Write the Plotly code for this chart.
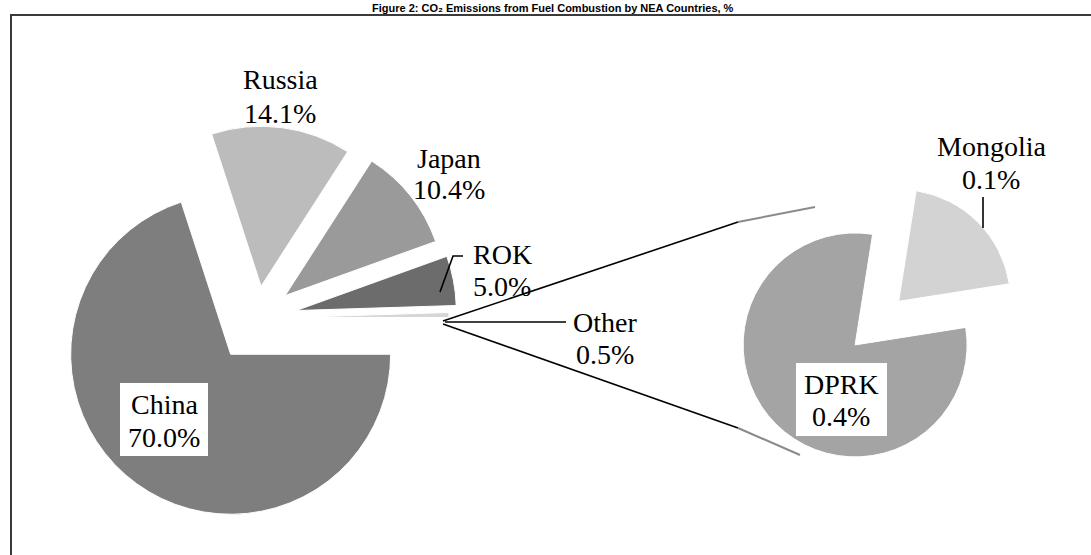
import plotly.graph_objects as go

# ---- data ----
main_labels = ["China", "Russia", "Japan", "ROK", "Other"]
main_values = [70.0, 14.1, 10.4, 5.0, 0.5]
main_colors = ["#7e7e7e", "#bcbcbc", "#9a9a9a", "#6c6c6c", "#d6d6d6"]
main_pull = [0.28, 0.2, 0.225, 0.25, 0.2]

other_labels = ["Mongolia", "DPRK"]
other_values = [0.1, 0.4]
other_colors = ["#d3d3d3", "#a4a4a4"]
other_pull = [0.45, 0.1]

title_text = "Figure 2: CO\u2082 Emissions from Fuel Combustion by NEA Countries, %"

W, H = 1091, 555


def px(x):
    return x / W


def py(y):
    return 1 - y / H


fig = go.Figure()

fig.add_trace(go.Pie(
    labels=main_labels, values=main_values, sort=False,
    direction="clockwise", rotation=90,
    pull=main_pull, textinfo="none", hoverinfo="label+percent",
    marker=dict(colors=main_colors, line=dict(color="white", width=1)),
    domain=dict(x=[0.0478, 0.4233], y=[0.0580, 0.7960]),
    showlegend=False,
))

fig.add_trace(go.Pie(
    labels=other_labels, values=other_values, sort=False,
    direction="clockwise", rotation=9,
    pull=other_pull, textinfo="none", hoverinfo="label+value",
    marker=dict(colors=other_colors, line=dict(color="white", width=1)),
    domain=dict(x=[0.6422, 0.9399], y=[0.1002, 0.6854]),
    showlegend=False,
))

font = dict(family="Liberation Serif, Times New Roman, serif", size=28, color="black")

# (label line, value line, x centre, y of first line, y of second line)
label_pos = [
    ("Russia", "14.1%", 280, 80, 113),
    ("Japan", "10.4%", 449, 158, 189),
    ("ROK", "5.0%", 502, 255, 286),
    ("Other", "0.5%", 605, 322, 354),
    ("Mongolia", "0.1%", 991, 146, 179),
    ("China", "70.0%", 164, 404, 437),
    ("DPRK", "0.4%", 841, 384, 416),
]
annotations = []
for t1, t2, x, y1, y2 in label_pos:
    for t, y in ((t1, y1), (t2, y2)):
        annotations.append(dict(
            text=t, x=px(x), y=py(y), xref="paper", yref="paper",
            xanchor="center", yanchor="middle", showarrow=False, font=font))

annotations.append(dict(
    text="<b>" + title_text + "</b>", x=0.507, y=1, xref="paper", yref="paper",
    xanchor="center", yanchor="top", yshift=0, showarrow=False,
    font=dict(family="Liberation Sans, Arial, sans-serif", size=11, color="black"),
))

line_black = dict(color="black", width=1.6)
shapes = [
    # frame
    dict(type="rect", xref="paper", yref="paper", x0=px(11), y0=py(15), x1=1.01, y1=-0.02,
         line=dict(color="#3a3a3a", width=2), fillcolor="rgba(0,0,0,0)", layer="below"),
    # white label boxes
    dict(type="rect", xref="paper", yref="paper", x0=px(120), y0=py(383), x1=px(208), y1=py(456),
         line=dict(width=0), fillcolor="white", layer="above"),
    dict(type="rect", xref="paper", yref="paper", x0=px(796), y0=py(363), x1=px(887), y1=py(436),
         line=dict(width=0), fillcolor="white", layer="above"),
    # connector lines to the secondary pie
    dict(type="line", xref="paper", yref="paper", x0=px(443), y0=py(321), x1=px(738), y1=py(222),
         line=line_black),
    dict(type="line", xref="paper", yref="paper", x0=px(738), y0=py(222), x1=px(815), y1=py(207),
         line=dict(color="#8a8a8a", width=2)),
    dict(type="line", xref="paper", yref="paper", x0=px(443), y0=py(324), x1=px(738), y1=py(428),
         line=line_black),
    dict(type="line", xref="paper", yref="paper", x0=px(738), y0=py(428), x1=px(800), y1=py(455),
         line=dict(color="#8a8a8a", width=2)),
    # Other leader
    dict(type="line", xref="paper", yref="paper", x0=px(445), y0=py(322), x1=px(566), y1=py(322),
         line=line_black),
    # ROK leader
    dict(type="path", xref="paper", yref="paper",
         path=f"M {px(440)},{py(292)} L {px(453)},{py(256)} L {px(463)},{py(256)}",
         line=line_black),
    # Mongolia leader
    dict(type="line", xref="paper", yref="paper", x0=px(983), y0=py(197), x1=px(983), y1=py(228),
         line=line_black),
]

fig.update_layout(
    width=W, height=H,
    margin=dict(l=0, r=0, t=0, b=0),
    paper_bgcolor="white", plot_bgcolor="white",
    annotations=annotations, shapes=shapes,
    showlegend=False,
)

fig.write_html("out.html",
               config={"displayModeBar": False},
               post_script="document.body.style.margin='0';document.body.style.overflow='hidden';")
